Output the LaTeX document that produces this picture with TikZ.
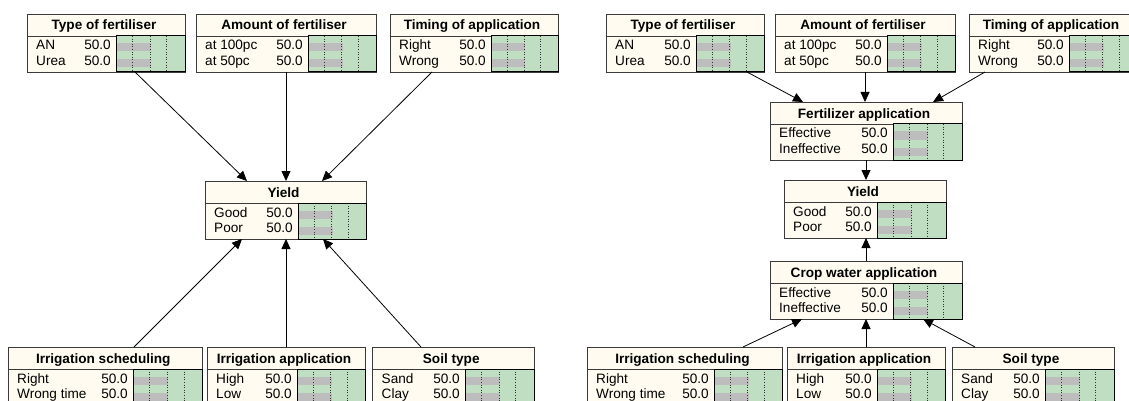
\documentclass[tikz,border=0pt]{standalone}
\usepackage{fontspec}
\setmainfont{Liberation Sans}
\usetikzlibrary{arrows.meta,calc}
\definecolor{cream}{HTML}{FFFBF0}
\definecolor{bngreen}{HTML}{C0DEC2}
\definecolor{bngray}{HTML}{BDBDBD}
\definecolor{bnedge}{HTML}{3A3A3A}
\tikzset{
  boxframe/.style={draw=bnedge, fill=cream, line width=0.9pt, inner sep=0pt, outer sep=0pt},
  panelfill/.style={fill=bngreen},
  panelline/.style={draw=black, line width=1pt},
  barfill/.style={fill=bngray},
  ticksty/.style={draw=black!80, dotted, line width=0.6pt},
  txt/.style={font=\fontsize{13.6}{16}\selectfont, inner sep=0pt},
  ttl/.style={font=\fontsize{13.6}{16}\selectfont\bfseries, inner sep=0pt},
  arr/.style={-{Triangle[length=10pt,width=9pt]}, line width=0.8pt, black},
}
% #1 name, #2 left, #3 top, #4 right, #5 panel left, #6 title, #7 state 1, #8 state 2
\newcommand{\bnbox}[8]{%
  \node[boxframe, minimum width={(#4-#2)*1pt}, minimum height=58pt, anchor=north west] (#1) at (#2,#3) {};
  \draw[draw=bnedge, line width=0.9pt] (#2,{#3+22}) -- (#4,{#3+22});
  \fill[panelfill] (#5,{#3+22}) rectangle (#4,{#3+58});
  \fill[barfill] ({#5+1},{#3+29.5}) rectangle ({#5+0.51*(#4-#5)},{#3+37.5});
  \fill[barfill] ({#5+1},{#3+45.5}) rectangle ({#5+0.51*(#4-#5)},{#3+53.5});
  \draw[ticksty] ({#5+0.24*(#4-#5)},{#3+22}) -- ({#5+0.24*(#4-#5)},{#3+58});
  \draw[ticksty] ({#5+0.49*(#4-#5)},{#3+22}) -- ({#5+0.49*(#4-#5)},{#3+58});
  \draw[ticksty] ({#5+0.735*(#4-#5)},{#3+22}) -- ({#5+0.735*(#4-#5)},{#3+58});
  \draw[panelline] (#5,{#3+22}) rectangle (#4,{#3+58});
  \node[ttl, anchor=base] (#1-ttl) at ({(#2+#4)/2-2},{#3+16}) {#6};
  \node[txt, anchor=base west] (#1-a) at ({#2+9},{#3+36}) {#7};
  \node[txt, anchor=base east] (#1-av) at ({#5-5},{#3+36}) {50.0};
  \node[txt, anchor=base west] (#1-b) at ({#2+9},{#3+51.5}) {#8};
  \node[txt, anchor=base east] (#1-bv) at ({#5-5},{#3+51.5}) {50.0};
}
\begin{document}
\begin{tikzpicture}[x=1pt,y=-1pt]
\useasboundingbox (0,0) rectangle (1129,401);
\fill[white] (0,0) rectangle (1129,401);
\clip (0,0) rectangle (1129,401);
% ---- left network ----
\bnbox{typeL}{27}{14}{185}{116}{Type of fertiliser}{AN}{Urea}
\bnbox{amtL}{196}{14}{376}{308}{Amount of fertiliser}{at 100pc}{at 50pc}
\bnbox{timL}{390}{14}{558}{491}{Timing of application}{Right}{Wrong}
\bnbox{yieldL}{205}{181}{366}{298}{Yield}{Good}{Poor}
\bnbox{irsL}{8}{347}{202.5}{133}{Irrigation scheduling}{Right}{Wrong time}
\bnbox{iraL}{207}{347}{365}{297}{Irrigation application}{High}{Low}
\bnbox{soilL}{372.5}{347}{534}{465}{Soil type}{Sand}{Clay}
% ---- right network ----
\bnbox{typeR}{606}{14}{764}{696}{Type of fertiliser}{AN}{Urea}
\bnbox{amtR}{775}{14}{955}{887}{Amount of fertiliser}{at 100pc}{at 50pc}
\bnbox{timR}{969}{14}{1137}{1069}{Timing of application}{Right}{Wrong}
\bnbox{fertR}{770}{102}{962}{893}{Fertilizer application}{Effective}{Ineffective}
\bnbox{yieldR}{784}{180}{946}{877}{Yield}{Good}{Poor}
\bnbox{cropR}{770}{261}{962}{893}{Crop water application}{Effective}{Ineffective}
\bnbox{irsR}{587}{347}{782}{714}{Irrigation scheduling}{Right}{Wrong time}
\bnbox{iraR}{787}{347}{945}{877}{Irrigation application}{High}{Low}
\bnbox{soilR}{952}{347}{1114}{1045}{Soil type}{Sand}{Clay}
% ---- left connectors ----
\draw[arr] ($(typeL.south west)+(108,0)$) -- ($(yieldL.north west)+(42,0)$);
\draw[arr] (amtL.south) -- (amtL.south |- yieldL.north);
\draw[arr] ($(timL.south west)+(42,0)$) -- ($(yieldL.north west)+(117,0)$);
\draw[arr] ($(irsL.north west)+(126,0)$) -- ($(yieldL.south west)+(37,0)$);
\draw[arr] (iraL.north) -- (iraL.north |- yieldL.south);
\draw[arr] ($(soilL.north west)+(48.5,0)$) -- ($(yieldL.south west)+(118,0)$);
% ---- right connectors ----
\draw[arr] ($(typeR.south west)+(141,0)$) -- ($(fertR.north west)+(33,0)$);
\draw[arr] (amtR.south) -- (amtR.south |- fertR.north);
\draw[arr] ($(timR.south west)+(16,0)$) -- ($(fertR.north west)+(163,0)$);
\draw[arr] (fertR.south) -- (fertR.south |- yieldR.north);
\draw[arr] (cropR.north) -- (cropR.north |- yieldR.south);
\draw[arr] ($(irsR.north west)+(156,0)$) -- ($(cropR.south west)+(32,0)$);
\draw[arr] (iraR.north) -- (iraR.north |- cropR.south);
\draw[arr] ($(soilR.north west)+(23,0)$) -- ($(cropR.south west)+(153,0)$);
\end{tikzpicture}
\end{document}
